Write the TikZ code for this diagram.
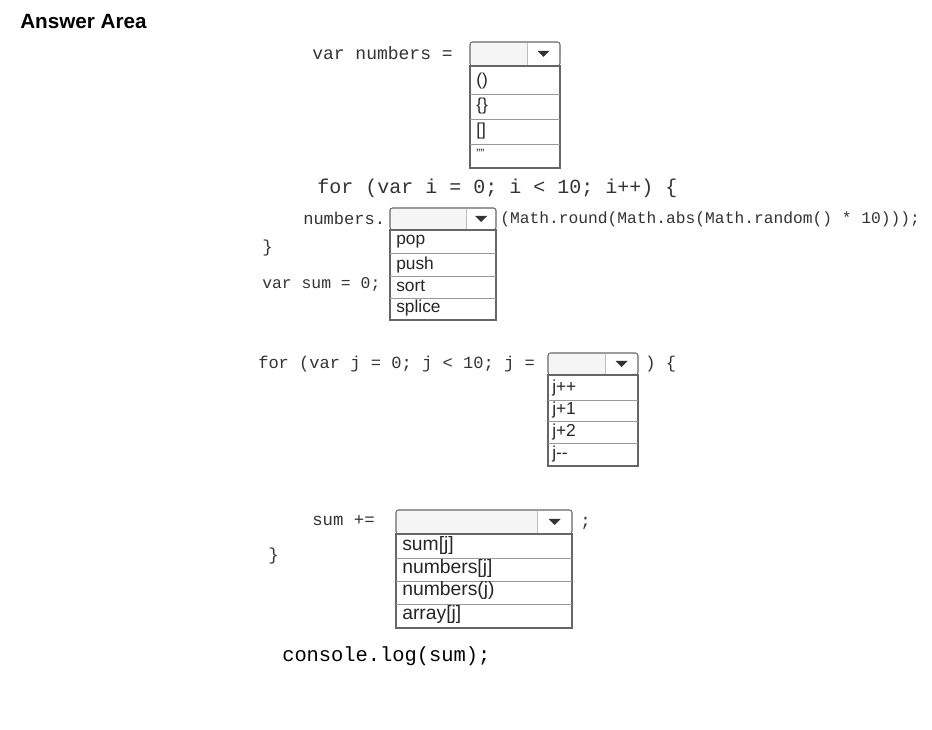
\documentclass[tikz,border=0pt]{standalone}
\usepackage{fontspec}
\setmainfont{Liberation Sans}
\newfontfamily\codefont{Liberation Mono}
\newcommand{\dropbox}[9]{% x1 x2 yh1 yh2 div ylist-bottom r1 r2 r3
  \draw[boxline,rounded corners=2] (#1,#3) rectangle (#2,#4);
  \fill[gray!8] (#1+1,#3+1) rectangle (#5,#4-1);
  \draw[gray!50] (#5,#3+1) -- (#5,#4-1);
  \fill[black!80] ({(#5+#2)/2-6},{(#3+#4)/2-3}) -- ({(#5+#2)/2+6},{(#3+#4)/2-3}) -- ({(#5+#2)/2},{(#3+#4)/2+3}) -- cycle;
  \draw[boxline] (#1,#4) rectangle (#2,#6);
  \draw[rowline] (#1,#7) -- (#2,#7) (#1,#8) -- (#2,#8) (#1,#9) -- (#2,#9);
}
\begin{document}
\begin{tikzpicture}[x=0.75pt,y=-0.75pt,
  boxline/.style={draw=black!60,line width=0.8pt},
  rowline/.style={draw=black!40,line width=0.6pt},
  code/.style={anchor=west,inner sep=0pt,font=\codefont\fontsize{#1}{#1}\selectfont,text=black!80},
  opt/.style={anchor=west,inner sep=0pt,font=\fontsize{13}{13}\selectfont,text=black!85},
  optb/.style={anchor=west,inner sep=0pt,font=\fontsize{14.5}{14.5}\selectfont,text=black!85}]
\useasboundingbox (0,0) rectangle (932,730);
\node[anchor=west,inner sep=0pt,font=\bfseries\fontsize{15.5}{15.5}\selectfont] (title) at (20,21) {Answer Area};
% line 1
\node[code=13.5] (l1) at (312,53) {var numbers =};
\dropbox{470}{560}{42}{66}{527}{168}{94}{119}{144}
\node[opt] (o11) at (476,81) {()};
\node[opt] (o12) at (476,106) {\{\}};
\node[opt] (o13) at (476,131) {[]};
\node[opt,font=\fontsize{9}{9}\selectfont] (o14) at (476,153) {""};
% line 2
\node[code=15] (l2) at (317,188) {for (var i = 0; i < 10; i++) \{};
\node[code=12.8] (l3) at (303,218) {numbers.};
\dropbox{390}{496}{208}{230}{466}{320}{253}{276}{298}
\node[code=12.2] (l3b) at (500,219) {(Math.round(Math.abs(Math.random() * 10)));};
\node[opt] (o21) at (396,242) {pop};
\node[opt] (o22) at (396,265) {push};
\node[opt] (o23) at (396,286) {sort};
\node[opt] (o24) at (396,308) {splice};
\node[code=13] (l4) at (262,248) {\}};
\node[code=12.3] (l5) at (262,284) {var sum = 0;};
% line j
\node[code=12.8] (l6) at (258,364) {for (var j = 0; j < 10; j =};
\dropbox{548}{638}{353}{375}{605}{466}{400}{421}{443}
\node[code=12.8] (l6b) at (645,364) {) \{};
\node[opt] (o31) at (552,388) {j++};
\node[opt] (o32) at (552,410) {j+1};
\node[opt] (o33) at (552,432) {j+2};
\node[opt] (o34) at (552,454) {j{-}{-}};
% sum
\node[code=13] (l7) at (312,521) {sum +=};
\dropbox{396}{572}{510}{534}{537}{628}{558}{581}{604}
\node[code=13] (l7b) at (580,523) {;};
\node[optb] (o41) at (402,546) {sum[j]};
\node[optb] (o42) at (402,569) {numbers[j]};
\node[optb] (o43) at (402,591) {numbers(j)};
\node[optb] (o44) at (402,615) {array[j]};
\node[code=13] (l8) at (268,556) {\}};
\node[code=15.3,text=black] (l9) at (282,656) {console.log(sum);};
\end{tikzpicture}
\end{document}
